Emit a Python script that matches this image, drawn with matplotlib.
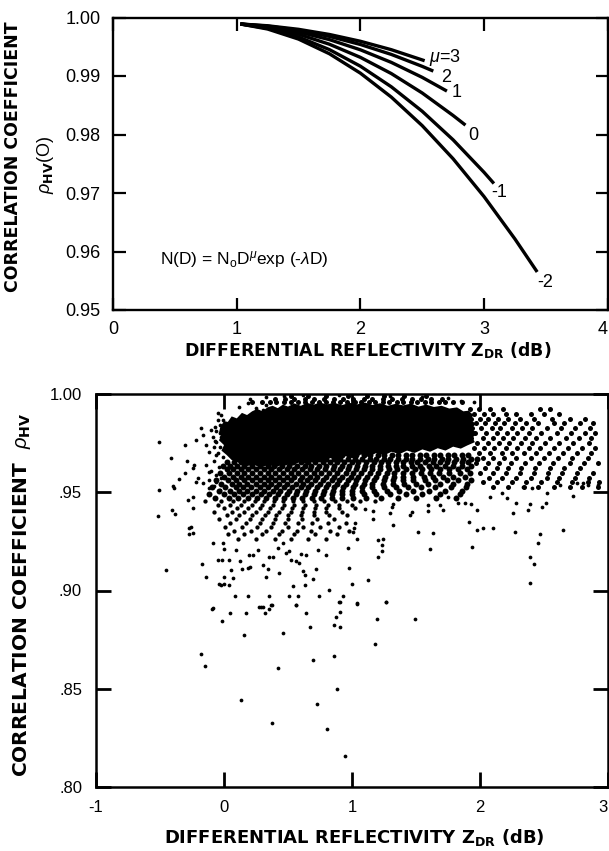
import matplotlib
matplotlib.use("Agg")
import matplotlib.pyplot as plt

plt.rcParams['font.family'] = ['Liberation Sans', 'DejaVu Sans']
plt.rcParams['mathtext.fontset'] = 'custom'
plt.rcParams['mathtext.rm'] = 'Liberation Sans'
plt.rcParams['mathtext.it'] = 'Liberation Sans:italic'
plt.rcParams['mathtext.bf'] = 'DejaVu Sans:bold'

# ---------------- top panel: model curves ----------------
mu_labels = ["$\\mu$=3", "2", "1", "0", "-1", "-2"]
zdr_mu3 = [1.03, 1.25, 1.50, 1.75, 2.00, 2.25, 2.52]
rho_mu3 = [0.99889, 0.99859, 0.99798, 0.99710, 0.99594, 0.99450, 0.99261]
zdr_mu2 = [1.03, 1.25, 1.50, 1.75, 2.00, 2.25, 2.50, 2.59]
rho_mu2 = [0.99889, 0.99853, 0.99781, 0.99677, 0.99539, 0.99369, 0.99165, 0.99084]
zdr_mu1 = [1.03, 1.25, 1.50, 1.75, 2.00, 2.25, 2.50, 2.70]
rho_mu1 = [0.99889, 0.99844, 0.99753, 0.99622, 0.99448, 0.99233, 0.98977, 0.98742]
zdr_mu0 = [1.03, 1.25, 1.50, 1.75, 2.00, 2.25, 2.50, 2.75, 2.85]
rho_mu0 = [0.99889, 0.99831, 0.99714, 0.99543, 0.99319, 0.99042, 0.98710, 0.98325, 0.98160]
zdr_mum1 = [1.03, 1.25, 1.50, 1.75, 2.00, 2.25, 2.50, 2.75, 3.00, 3.08]
rho_mum1 = [0.99889, 0.99815, 0.99667, 0.99451, 0.99168, 0.98816, 0.98397, 0.97909, 0.97354, 0.97162]
zdr_mum2 = [1.03, 1.25, 1.50, 1.75, 2.00, 2.25, 2.50, 2.75, 3.00, 3.25, 3.43]
rho_mum2 = [0.99889, 0.99803, 0.99631, 0.99380, 0.99049, 0.98640, 0.98152, 0.97585, 0.96939, 0.96214, 0.95650]
label_zdr = [2.555, 2.650, 2.740, 2.870, 3.06, 3.43]
label_rho = [0.9932, 0.9898, 0.9871, 0.9799, 0.9701, 0.9547]

top_xticks = [0, 1, 2, 3, 4]
top_yticks = [0.95, 0.96, 0.97, 0.98, 0.99, 1.00]
top_yticklabels = ["0.95", "0.96", "0.97", "0.98", "0.99", "1.00"]

# ---------------- bottom panel: observations ----------------
bot_xticks = [-1, 0, 1, 2, 3]
bot_xticklabels = ["-1", "0", "1", "2", "3"]
bot_yticks = [0.80, 0.85, 0.90, 0.95, 1.00]
bot_yticklabels = [".80", ".85", ".90", ".95", "1.00"]

# saturated (solid black) part of the point cloud, outline
core_zdr = [-0.04, -0.03, 0.00, 0.03, 0.06, 0.10, 0.14, 0.18, 0.22, 0.26, 0.30, 0.34, 0.38, 0.42,
            0.46, 0.50, 0.55, 0.60, 0.65, 0.70, 0.75, 0.80, 0.86, 0.92, 0.98, 1.04, 1.10, 1.16,
            1.22, 1.28, 1.34, 1.40, 1.46, 1.52, 1.58, 1.64, 1.70, 1.76, 1.82, 1.87, 1.91,
            1.95, 1.92, 1.97, 1.93, 1.98, 1.94, 1.96, 1.90,
            1.85, 1.79, 1.73, 1.67, 1.61, 1.55, 1.49, 1.43, 1.37, 1.31, 1.25, 1.19, 1.13, 1.07,
            1.01, 0.95, 0.89, 0.83, 0.77, 0.71, 0.65, 0.59, 0.53, 0.47, 0.41, 0.35, 0.29, 0.23,
            0.17, 0.11, 0.06, 0.02, -0.02, 0.00, -0.04, -0.02]
core_rho = [0.9800, 0.9830, 0.9862, 0.9858, 0.9886, 0.9876, 0.9904, 0.9893, 0.9912, 0.9924,
            0.9912, 0.9932, 0.9940, 0.9928, 0.9946, 0.9936, 0.9952, 0.9940, 0.9955, 0.9945,
            0.9958, 0.9946, 0.9956, 0.9943, 0.9955, 0.9947, 0.9957, 0.9944, 0.9953, 0.9940,
            0.9950, 0.9942, 0.9951, 0.9936, 0.9946, 0.9934, 0.9940, 0.9926, 0.9932, 0.9912,
            0.9915,
            0.9892, 0.9870, 0.9848, 0.9825, 0.9800, 0.9778, 0.9755, 0.9738,
            0.9722, 0.9732, 0.9712, 0.9724, 0.9706, 0.9718, 0.9700, 0.9712, 0.9694, 0.9706,
            0.9688, 0.9700, 0.9680, 0.9692, 0.9672, 0.9684, 0.9662, 0.9674, 0.9652, 0.9664,
            0.9642, 0.9654, 0.9634, 0.9646, 0.9628, 0.9640, 0.9626, 0.9640, 0.9632, 0.9652,
            0.9664, 0.9690, 0.9712, 0.9740, 0.9765, 0.9785]

# top fringe of the cloud
fringe_rows = [
    (0.9958, [0.22, 0.30, 0.36, 0.41, 0.47, 0.52, 0.58, 0.63, 0.69, 0.74, 0.80, 0.85, 0.91, 0.96,
              1.02, 1.07, 1.13, 1.18, 1.24, 1.29, 1.35, 1.40, 1.46, 1.51, 1.57, 1.62, 1.68, 1.73,
              1.79, 1.86]),
    (0.9974, [0.40, 0.48, 0.55, 0.63, 0.70, 0.78, 0.86, 0.93, 1.01, 1.09, 1.16, 1.24, 1.31, 1.39,
              1.47, 1.54, 1.62, 1.70]),
    (0.9990, [0.52, 0.66, 0.80, 0.97, 1.12, 1.25, 1.41, 1.58]),
]

# dense band just below the saturated core
band_upper_rows = [
    (0.9688, [0.92, 0.98, 1.03, 1.09, 1.14, 1.20, 1.25, 1.31, 1.36, 1.42, 1.47, 1.53, 1.58, 1.64,
              1.69, 1.75, 1.80, 1.86, 1.91]),
    (0.9670, [0.12, 0.18, 0.24, 0.29, 0.35, 0.41, 0.46, 0.52, 0.57, 0.63, 0.69, 0.74, 0.80, 0.86,
              0.91, 0.97, 1.02, 1.08, 1.14, 1.19, 1.25, 1.30, 1.36, 1.42, 1.47, 1.53, 1.59, 1.64,
              1.70, 1.75, 1.81, 1.87, 1.93, 1.98]),
    (0.9652, [0.02, 0.08, 0.13, 0.20, 0.26, 0.31, 0.37, 0.43, 0.48, 0.54, 0.60, 0.66, 0.71, 0.77,
              0.83, 0.88, 0.94, 1.00, 1.05, 1.11, 1.17, 1.23, 1.28, 1.34, 1.40, 1.46, 1.51, 1.57,
              1.63, 1.69, 1.74, 1.80, 1.86, 1.91]),
    (0.9634, [-0.01, 0.05, 0.10, 0.16, 0.22, 0.28, 0.34, 0.39, 0.45, 0.51, 0.57, 0.63, 0.68, 0.74,
              0.80, 0.86, 0.92, 0.98, 1.04, 1.10, 1.16, 1.22, 1.28, 1.34, 1.40, 1.47, 1.53, 1.60,
              1.66, 1.73, 1.79, 1.86, 1.93]),
    (0.9616, [0.02, 0.07, 0.13, 0.19, 0.25, 0.31, 0.37, 0.43, 0.49, 0.55, 0.61, 0.67, 0.73, 0.79,
              0.85, 0.91, 0.97, 1.03, 1.09, 1.16, 1.22, 1.29, 1.35, 1.42, 1.49, 1.55, 1.62, 1.69,
              1.76, 1.83, 1.90]),
    (0.9598, [-0.03, 0.04, 0.10, 0.16, 0.22, 0.28, 0.34, 0.40, 0.46, 0.52, 0.58, 0.64, 0.70, 0.76,
              0.82, 0.88, 0.95, 1.01, 1.07, 1.14, 1.20, 1.27, 1.33, 1.40, 1.47, 1.54, 1.61, 1.68,
              1.76, 1.84, 1.92]),
    (0.9580, [0.00, 0.07, 0.13, 0.19, 0.25, 0.31, 0.37, 0.43, 0.49, 0.55, 0.61, 0.67, 0.73, 0.80,
              0.86, 0.92, 0.99, 1.05, 1.12, 1.19, 1.26, 1.33, 1.40, 1.48, 1.56, 1.63, 1.71, 1.79,
              1.88]),
    (0.9562, [-0.06, 0.03, 0.09, 0.16, 0.22, 0.28, 0.34, 0.40, 0.46, 0.52, 0.59, 0.65, 0.71, 0.77,
              0.84, 0.90, 0.97, 1.03, 1.10, 1.17, 1.25, 1.32, 1.40, 1.48, 1.57, 1.65, 1.74, 1.83,
              1.93]),
    (0.9544, [-0.02, 0.06, 0.12, 0.18, 0.25, 0.31, 0.37, 0.43, 0.49, 0.56, 0.62, 0.68, 0.75, 0.81,
              0.88, 0.95, 1.02, 1.09, 1.16, 1.24, 1.32, 1.41, 1.50, 1.59, 1.69, 1.79, 1.90]),
    (0.9526, [-0.09, 0.01, 0.09, 0.15, 0.21, 0.28, 0.34, 0.41, 0.47, 0.53, 0.60, 0.66, 0.73, 0.80,
              0.86, 0.93, 1.01, 1.08, 1.16, 1.25, 1.34, 1.44, 1.54, 1.65, 1.77, 1.89]),
    (0.9508, [-0.04, 0.05, 0.12, 0.18, 0.25, 0.31, 0.38, 0.44, 0.51, 0.57, 0.64, 0.71, 0.78, 0.85,
              0.92, 1.00, 1.08, 1.17, 1.27, 1.37, 1.48, 1.60, 1.73, 1.86]),
    (0.9490, [-0.12, 0.00, 0.08, 0.15, 0.22, 0.29, 0.35, 0.42, 0.49, 0.56, 0.63, 0.70, 0.77, 0.84,
              0.92, 1.00, 1.09, 1.19, 1.30, 1.42, 1.55, 1.69, 1.84]),
    (0.9472, [-0.07, 0.04, 0.11, 0.19, 0.26, 0.33, 0.40, 0.47, 0.54, 0.61, 0.69, 0.76, 0.84, 0.92,
              1.01, 1.11, 1.23, 1.36, 1.50, 1.66, 1.81]),
]

# thinner band further below
band_lower_rows = [
    (0.9454, [-0.15, -0.02, 0.07, 0.16, 0.24, 0.31, 0.39, 0.46, 0.54, 0.62, 0.70, 0.78, 0.87, 0.96,
              1.06, 1.18]),
    (0.9436, [-0.05, 0.05, 0.13, 0.22, 0.30, 0.38, 0.47, 0.55, 0.63, 0.72, 0.81, 0.90, 1.00]),
    (0.9418, [0.00, 0.10, 0.19, 0.28, 0.36, 0.45, 0.53, 0.62, 0.71, 0.80, 0.90, 1.02]),
    (0.9400, [-0.08, 0.06, 0.16, 0.25, 0.34, 0.43, 0.52, 0.61, 0.70, 0.80, 0.92]),
    (0.9382, [0.02, 0.12, 0.22, 0.32, 0.41, 0.50, 0.60, 0.70, 0.82, 0.96]),
    (0.9364, [-0.04, 0.09, 0.20, 0.30, 0.40, 0.50, 0.61, 0.73, 0.86]),
    (0.9346, [0.05, 0.17, 0.28, 0.38, 0.48, 0.58, 0.69, 0.81, 0.95]),
    (0.9325, [0.01, 0.14, 0.26, 0.37, 0.50, 0.62, 0.75, 0.90]),
    (0.9305, [0.08, 0.21, 0.33, 0.45, 0.57, 0.68, 0.83, 0.98]),
    (0.9285, [0.03, 0.16, 0.30, 0.43, 0.55, 0.71, 0.88]),
    (0.9262, [0.11, 0.25, 0.40, 0.52, 0.66, 0.80]),
]

# right-hand wing of the cloud (large ZDR)
right_rows = [
    (0.9925, [1.92, 1.99, 2.08, 2.18, 2.47, 2.55]),
    (0.9900, [1.95, 2.03, 2.10, 2.20, 2.28, 2.40, 2.50, 2.62]),
    (0.9875, [1.93, 2.00, 2.06, 2.14, 2.22, 2.31, 2.42, 2.56, 2.70, 2.82]),
    (0.9850, [1.97, 2.04, 2.12, 2.19, 2.27, 2.36, 2.45, 2.58, 2.66, 2.78, 2.88]),
    (0.9825, [1.94, 2.01, 2.09, 2.16, 2.25, 2.33, 2.41, 2.52, 2.63, 2.74, 2.86]),
    (0.9800, [1.96, 2.05, 2.13, 2.21, 2.29, 2.38, 2.48, 2.60, 2.71, 2.82, 2.90]),
    (0.9775, [1.93, 2.02, 2.10, 2.18, 2.26, 2.35, 2.44, 2.55, 2.67, 2.77, 2.87]),
    (0.9750, [1.98, 2.06, 2.15, 2.23, 2.32, 2.41, 2.51, 2.62, 2.73, 2.85]),
    (0.9725, [1.95, 2.03, 2.11, 2.20, 2.29, 2.38, 2.47, 2.58, 2.69, 2.80, 2.90]),
    (0.9700, [1.99, 2.08, 2.17, 2.25, 2.34, 2.44, 2.54, 2.65, 2.76, 2.87]),
    (0.9675, [2.02, 2.10, 2.19, 2.28, 2.40, 2.50, 2.61, 2.72, 2.84]),
    (0.9650, [1.97, 2.06, 2.15, 2.24, 2.35, 2.46, 2.57, 2.70, 2.81, 2.92]),
    (0.9625, [2.04, 2.13, 2.22, 2.32, 2.43, 2.55, 2.66, 2.78]),
    (0.9600, [2.00, 2.10, 2.20, 2.31, 2.42, 2.53, 2.64, 2.76, 2.88]),
    (0.9575, [2.07, 2.17, 2.28, 2.40, 2.52, 2.62, 2.74, 2.85]),
    (0.9550, [2.02, 2.13, 2.25, 2.36, 2.48, 2.60, 2.72, 2.84, 2.93]),
    (0.9525, [2.10, 2.22, 2.34, 2.45, 2.58, 2.70, 2.80, 2.92]),
]

# individual, separately visible observations
sparse_zdr = [
    -0.505, -0.414, -0.302, -0.292, -0.302, -0.388, -0.349, -0.237, -0.245, -0.219, -0.206, -0.18,
    -0.219, -0.167, -0.141, -0.115, -0.102, -0.089, -0.076, -0.062, -0.141, -0.115, -0.167, -0.115,
    -0.062, -0.049, -0.023, -0.01, -0.068, -0.031, -0.062, 0.12, 0.185, 0.25, 0.328, 0.302,
    -0.05, -0.03, -0.06, -0.02, -0.07, -0.03, -0.05, -0.01, -0.08, -0.04, -0.10, -0.06, -0.02,
    -0.12, -0.08, -0.03,
    0.20, 0.33, 0.47, 0.62, 0.90, 1.30, 1.55, 1.75, 1.85, 1.95,
    -0.505, -0.518, -0.396, -0.406, -0.380, -0.284, -0.245, -0.240, -0.258, -0.27, -0.245, -0.27,
    -0.453, -0.172, -0.141, -0.089, -0.010, -0.003, -0.049, -0.016, 0.003, -0.036, 0.003, 0.042,
    0.073, 0.055, 0.094, 0.125, 0.141, 0.185, 0.203, 0.193, 0.224, 0.263, 0.302, 0.328, 0.346,
    0.354, 0.38, 0.419, 0.432, 0.458, 0.484, 0.505, 0.523, 0.536, 0.5625, 0.589, 0.602, 0.641,
    0.615, 0.635, 0.693, 0.719, 0.732, 0.797, 0.823, 0.745, 0.927, 0.901, 0.966, 0.979, 0.089,
    0.185, 0.354, 0.51, 0.575, 0.635, -0.089, 0.302, 0.372, 0.5625, -0.023, 0.042,
    1.041, 1.203, 1.244, 1.231, 1.231, 1.203, 1.609, 1.935, 0.997, 1.127, 1.041, 1.265, 1.323,
    1.518, 1.635, 1.916, 1.979, 2.026, 2.104, 2.273, 2.468, 2.455, 2.39, 2.651, 2.724, 2.513,
    2.481, 2.39, 2.377, 2.255, 1.015, 1.005, 1.023, 1.166, 1.101, 1.161, 1.297, 1.466, 1.453,
    1.596, 1.713, 1.596, 1.825, 1.882, 1.927, 1.974, 1.315, 1.323, 1.648, 1.687, 1.752, 2.078,
    2.169, 2.208, 2.281, 2.338, 2.403, 2.52, 2.625, 2.807, 2.924, 2.846, 2.755, 2.422, 2.393,
    -0.094, -0.016, 0.047, 0.172, 0.154, 0.276, 0.289, 0.323, 0.354, 0.370, 0.464, 0.565, 0.641,
    0.674, 0.857, 0.875, 0.904, 0.904, 0.904, -0.182, -0.148, 0.419, 0.693, 0.862, 0.880, 0.130,
    0.727, 0.378, 0.807, 0.945,
    1.042, 1.266, 1.193, 1.492, 1.182,
]
sparse_rho = [
    0.9754, 0.9676, 0.9741, 0.9659, 0.9597, 0.9524, 0.9566, 0.9639, 0.9622, 0.9554, 0.9571, 0.9825,
    0.9766, 0.9791, 0.9741, 0.9707, 0.9817, 0.9783, 0.9732, 0.9690, 0.9639, 0.9605, 0.9546, 0.9520,
    0.9554, 0.9901, 0.9893, 0.9868, 0.9834, 0.9800, 0.9758, 0.9936, 0.9953, 0.9931, 0.9944, 0.9919,
    0.987, 0.984, 0.981, 0.978, 0.976, 0.973, 0.970, 0.968, 0.966, 0.963, 0.961, 0.959, 0.957,
    0.956, 0.953, 0.951,
    0.9975, 0.9985, 0.9990, 0.9993, 0.9995, 0.9992, 0.9985, 0.9980, 0.9965, 0.9960,
    0.9509, 0.9381, 0.9532, 0.9410, 0.9390, 0.9461, 0.9475, 0.9419, 0.9325, 0.9317, 0.9292, 0.9290,
    0.9105, 0.9134, 0.9071, 0.9241, 0.9241, 0.9210, 0.9153, 0.9153, 0.9071, 0.9034, 0.9034, 0.9153,
    0.9066, 0.9102, 0.9204, 0.9148, 0.9109, 0.9114, 0.9119, 0.9181, 0.9181, 0.9204, 0.9131, 0.9071,
    0.9109, 0.9169, 0.9169, 0.9215, 0.9088, 0.9241, 0.9193, 0.9203, 0.9156, 0.9024, 0.9148, 0.9140,
    0.9187, 0.9181, 0.9097, 0.9078, 0.9058, 0.9109, 0.9207, 0.9181, 0.9003, 0.8970, 0.8970, 0.8944,
    0.9215, 0.9114, 0.8970, 0.8973, 0.8970, 0.8970, 0.8970, 0.9029, 0.8911, 0.8915, 0.8927, 0.8927,
    0.9029, 0.9029,
    0.9261, 0.9258, 0.9261, 0.9230, 0.9201, 0.9171, 0.9212, 0.9222, 0.9032, 0.9054, 0.8935, 0.8944,
    0.9334, 0.9300, 0.9292, 0.9351, 0.9308, 0.9320, 0.9320, 0.9300, 0.9288, 0.9240, 0.9173, 0.9310,
    0.9481, 0.9447, 0.9424, 0.9441, 0.9410, 0.9393, 0.9317, 0.9300, 0.9342, 0.9366, 0.9415, 0.9407,
    0.9393, 0.9402, 0.9385, 0.9407, 0.9410, 0.9436, 0.9447, 0.9447, 0.9441, 0.9410, 0.9424, 0.9441,
    0.9478, 0.9436, 0.9478, 0.9478, 0.9495, 0.9470, 0.9444, 0.9529, 0.9520, 0.9495, 0.9537, 0.9546,
    0.9537, 0.9537, 0.9546, 0.9136, 0.9037,
    0.8905, 0.8846, 0.8885, 0.8885, 0.8776, 0.8915, 0.8915, 0.8885, 0.8907, 0.8924, 0.8786, 0.8924,
    0.8885, 0.8813, 0.8825, 0.8866, 0.8944, 0.8893, 0.8813, 0.8678, 0.8618, 0.8608, 0.8647, 0.8668,
    0.8500, 0.8442, 0.8424, 0.8325, 0.8296, 0.8156,
    0.8932, 0.8944, 0.8856, 0.8856, 0.8729,
]


def rows_to_points(rows):
    xs, ys = [], []
    for r, zs in rows:
        xs.extend(zs)
        ys.extend([r] * len(zs))
    return xs, ys


W, H = 609, 851
fig = plt.figure(figsize=(W / 100, H / 100), dpi=100)

def fx(px):
    return px / W

def fy(py):
    return 1 - py / H

LABEL_FONT = ['DejaVu Sans']

# ---- top axes ----
ax1 = fig.add_axes([fx(113), fy(310), fx(607.7) - fx(113), fy(17.5) - fy(310)])
curves = [(zdr_mu3, rho_mu3), (zdr_mu2, rho_mu2), (zdr_mu1, rho_mu1),
          (zdr_mu0, rho_mu0), (zdr_mum1, rho_mum1), (zdr_mum2, rho_mum2)]
for (zz, rr) in curves:
    ax1.plot(zz, rr, color='black', lw=2.4, solid_capstyle='butt', solid_joinstyle='round')
for lab, lx, ly in zip(mu_labels, label_zdr, label_rho):
    ax1.text(lx, ly, lab, fontsize=13, ha='left', va='center')
ax1.text(0.38, 0.9587, "N(D) = N$_\\mathrm{o}$D$^{\\mu}$exp (-$\\lambda$D)", fontsize=12.5,
         ha='left', va='center')
ax1.set_xlim(0, 4)
ax1.set_ylim(0.95, 1.00)
ax1.set_xticks(top_xticks)
ax1.set_xticklabels([str(t) for t in top_xticks])
ax1.get_xticklabels()[-1].set_ha('right')
ax1.set_yticks(top_yticks)
ax1.set_yticklabels(top_yticklabels)
ax1.tick_params(direction='in', length=9, width=1.6, top=True, right=True, labelsize=13)
ax1.tick_params(axis='x', pad=8)
ax1.tick_params(axis='y', pad=9)
for s in ax1.spines.values():
    s.set_linewidth(1.7)

fig.text(fx(13), fy(157), "CORRELATION COEFFICIENT", rotation=90, ha='center', va='center',
         fontsize=12.5, fontweight='bold', family=LABEL_FONT)
fig.text(fx(46), fy(165), "$\\rho_{\\mathbf{HV}}$(O)", rotation=90, ha='center', va='center',
         fontsize=13)
fig.text(fx(368), fy(351), "DIFFERENTIAL REFLECTIVITY Z$_{\\mathbf{DR}}$ (dB)", ha='center',
         va='center', fontsize=12.5, fontweight='bold', family=LABEL_FONT)

# ---- bottom axes ----
ax2 = fig.add_axes([fx(96), fy(787), fx(608) - fx(96), fy(394) - fy(787)])
ax2.fill(core_zdr, core_rho, color='black', lw=0)
px, py = rows_to_points(fringe_rows)
ax2.plot(px, py, 'o', color='black', ms=3.6, mew=0)
px, py = rows_to_points(band_upper_rows)
ax2.plot(px, py, 'o', color='black', ms=4.3, mew=0)
px, py = rows_to_points(band_lower_rows)
ax2.plot(px, py, 'o', color='black', ms=3.1, mew=0)
px, py = rows_to_points(right_rows)
ax2.plot(px, py, 'o', color='black', ms=3.6, mew=0)
ax2.plot(sparse_zdr, sparse_rho, 'o', color='black', ms=2.7, mew=0)
ax2.set_xlim(-1, 3)
ax2.set_ylim(0.80, 1.00)
ax2.set_xticks(bot_xticks)
ax2.set_xticklabels(bot_xticklabels)
ax2.get_xticklabels()[-1].set_ha('right')
ax2.set_yticks(bot_yticks)
ax2.set_yticklabels(bot_yticklabels)
ax2.tick_params(direction='in', length=11, width=2, top=True, right=True, labelsize=12)
ax2.tick_params(axis='x', pad=9)
ax2.tick_params(axis='y', pad=10)
for s in ax2.spines.values():
    s.set_linewidth(1.8)

fig.text(fx(22), fy(595), "CORRELATION COEFFICIENT  $\\rho_{\\mathbf{HV}}$", rotation=90,
         ha='center', va='center', fontsize=14.5, fontweight='bold', family=LABEL_FONT)
fig.text(fx(354), fy(838), "DIFFERENTIAL REFLECTIVITY Z$_{\\mathbf{DR}}$ (dB)", ha='center',
         va='center', fontsize=13, fontweight='bold', family=LABEL_FONT)

fig.savefig("out.png", dpi=100)
